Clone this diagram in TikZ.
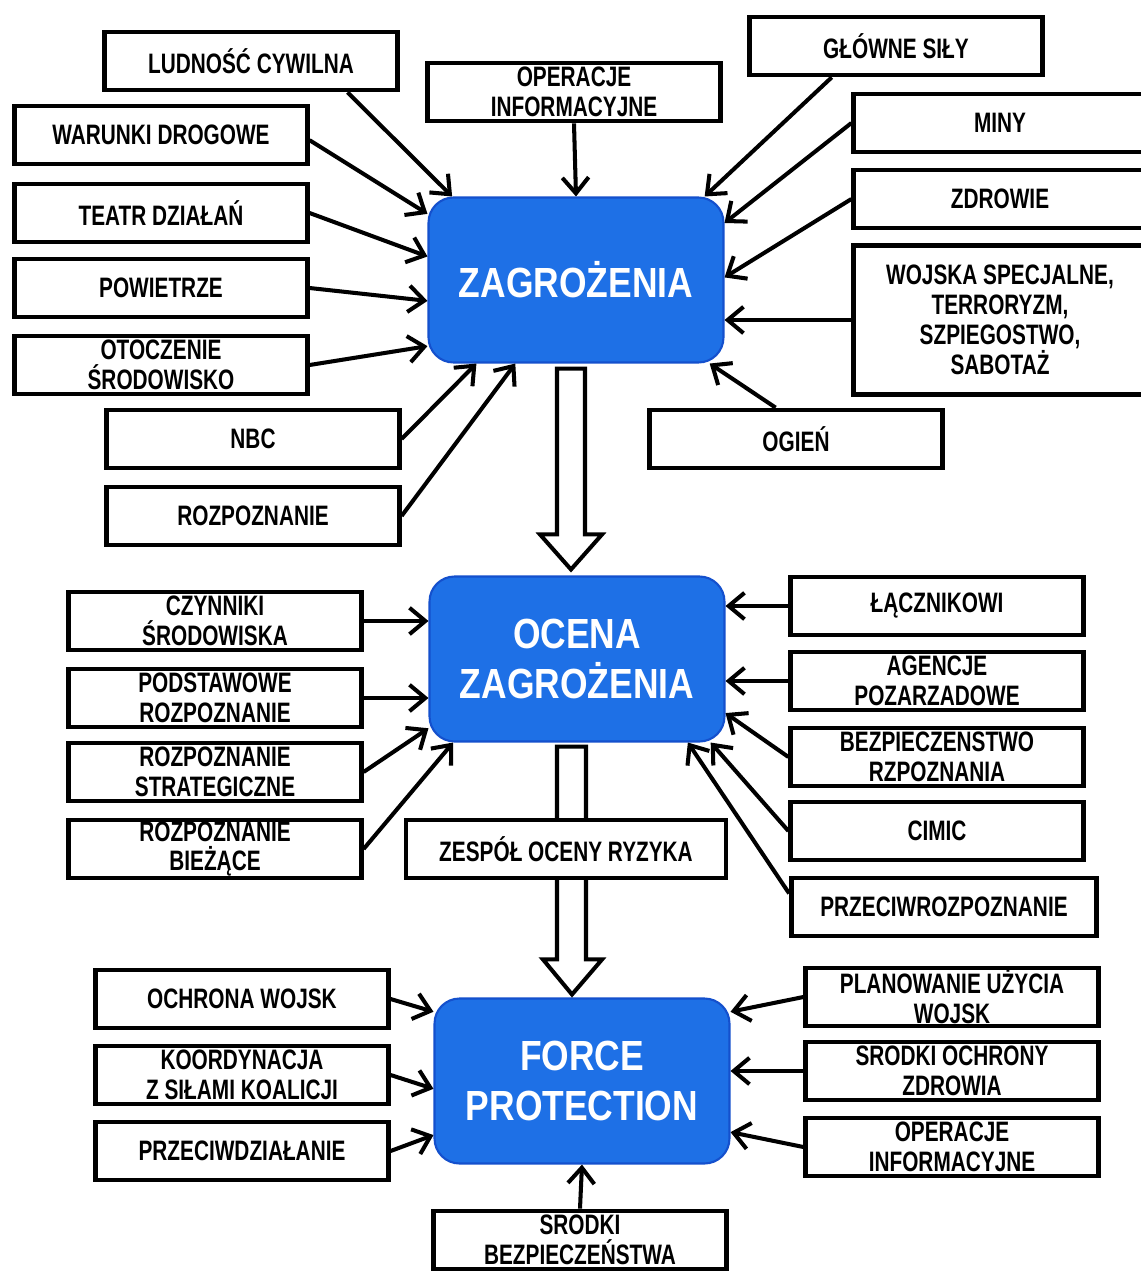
\documentclass[tikz,border=0pt]{standalone}
\usepackage{fontspec}
\setmainfont{Liberation Sans}[FakeStretch=0.74]
\newfontfamily\blockfont{Liberation Sans}[FakeStretch=0.84]
\usetikzlibrary{arrows.meta}
\usetikzlibrary{calc}
\definecolor{blue1}{RGB}{30,112,230}
\definecolor{blue2}{RGB}{20,80,205}

\tikzset{
  box/.style={draw, line width=2.7pt, fill=white, minimum width=5.85cm, minimum height=1.16cm,
    inner sep=0pt, align=center, font=\bfseries\fontsize{16}{17}\selectfont},
  core/.style={draw=blue2, line width=1.2pt, fill=blue1, rounded corners=0.5cm,
    minimum width=5.9cm, minimum height=3.3cm, align=center, text=white,
    font=\blockfont\bfseries\fontsize{24}{28}\selectfont},
  link/.style={line width=2.3pt, -{Straight Barb[length=9pt,width=15pt,line width=2.3pt]}},
  hollow/.style={draw, line width=2.3pt, fill=white, line join=miter}
}

\begin{document}
\begin{tikzpicture}[x=0.02cm, y=-0.02cm]
  \useasboundingbox (0,0) rectangle (1141,1272);
  % zagrozenia
  \node[core] (z) at (576,280) {ZAGROŻENIA};
  \node[box] (n1) at (251,61) {LUDNOŚĆ CYWILNA};
  \node[box] (n2) at (574,92) {OPERACJE\\INFORMACYJNE};
  \node[box] (n3) at (896,46) {GŁÓWNE SIŁY};
  \node[box] (n4) at (161,135) {WARUNKI DROGOWE};
  \node[box] (n5) at (161,213) {TEATR DZIAŁAŃ};
  \node[box] (n6) at (161,288) {POWIETRZE};
  \node[box] (n7) at (161,365) {OTOCZENIE\\ŚRODOWISKO};
  \node[box] (n8) at (253,439) {NBC};
  \node[box] (n9) at (253,516) {ROZPOZNANIE};
  \node[box] (n10) at (1000,123) {MINY};
  \node[box] (n11) at (1000,199) {ZDROWIE};
  \node[box, minimum height=2.98cm] (n12) at (1000,320) {WOJSKA SPECJALNE,\\TERRORYZM,\\SZPIEGOSTWO,\\SABOTAŻ};
  \node[box] (n13) at (796,439) {OGIEŃ};
  \foreach \from/\to in {n1.-18/z.146, n2.south/z.north, n3.206/z.33, n4.-2/z.156,
      n5.east/z.171, n6.east/z.188, n7.east/z.204, n8.east/z.220, n9.east/z.234,
      n10.180/z.21, n11.west/z.1, n13.123/z.-32}
    \draw[link] (\from) -- (\to);
  \draw[link] (n12.west) -- (n12.west -| z.east);

  % ocena
  \node[core] (o) at (577,659) {OCENA\\ZAGROŻENIA};
  \draw[hollow] ($(z.south)+(-19,5)$) -- ($(o.north)+(-20,-41)$) -- ($(o.north)+(-37,-41)$)
    -- ($(o.north)+(-6,-6)$) -- ($(o.north)+(25,-41)$) -- ($(o.north)+(8,-41)$)
    -- ($(z.south)+(9,5)$) -- cycle;
  \node[box] (m1) at (215,621) {CZYNNIKI\\ŚRODOWISKA};
  \node[box] (m2) at (215,698) {PODSTAWOWE\\ROZPOZNANIE};
  \node[box] (m3) at (215,772) {ROZPOZNANIE\\STRATEGICZNE};
  \node[box] (m4) at (215,849) {ROZPOZNANIE\\BIEŻĄCE};
  \node[box] (m5) at (937,606) {ŁĄCZNIKOWI};
  \node[box] (m6) at (937,681) {AGENCJE\\POZARZADOWE};
  \node[box] (m7) at (937,757) {BEZPIECZENSTWO\\RZPOZNANIA};
  \node[box] (m8) at (937,831) {CIMIC};
  \node[box, minimum width=6.1cm] (m9) at (944,907) {PRZECIWROZPOZNANIE};
  \foreach \from in {m1, m2}
    \draw[link] (\from.east) -- (\from.east -| o.west);
  \foreach \from in {m5, m6}
    \draw[link] (\from.west) -- (\from.west -| o.east);
  \foreach \from/\to in {m3.east/o.205, m4.east/o.214, m7.west/o.-20, m8.west/o.-32, m9.175/o.-37}
    \draw[link] (\from) -- (\to);

  % force protection
  \node[core] (f) at (582,1081) {FORCE\\PROTECTION};
  \draw[hollow] ($(o.south)+(-20,4)$) -- ($(f.north)+(-25,-38)$) -- ($(f.north)+(-39,-38)$)
    -- ($(f.north)+(-10,-3)$) -- ($(f.north)+(20,-38)$) -- ($(f.north)+(4,-38)$)
    -- ($(o.south)+(9,4)$) -- cycle;
  \node[box, minimum width=6.4cm] (m10) at (566,849) {ZESPÓŁ OCENY RYZYKA};
  \node[box] (b1) at (242,999) {OCHRONA WOJSK};
  \node[box] (b2) at (242,1075) {KOORDYNACJA\\Z SIŁAMI KOALICJI};
  \node[box] (b3) at (242,1151) {PRZECIWDZIAŁANIE};
  \node[box] (b4) at (952,997) {PLANOWANIE UŻYCIA\\WOJSK};
  \node[box] (b5) at (952,1071) {SRODKI OCHRONY\\ZDROWIA};
  \node[box] (b6) at (952,1147) {OPERACJE\\INFORMACYJNE};
  \node[box] (b7) at (580,1240) {SRODKI\\BEZPIECZEŃSTWA};
  \foreach \from/\to in {b1.east/f.155, b2.east/f.183, b3.east/f.200, b4.west/f.25,
      b6.west/f.-19, b7.north/f.south}
    \draw[link] (\from) -- (\to);
  \draw[link] (b5.west) -- (b5.west -| f.east);
\end{tikzpicture}
\end{document}
